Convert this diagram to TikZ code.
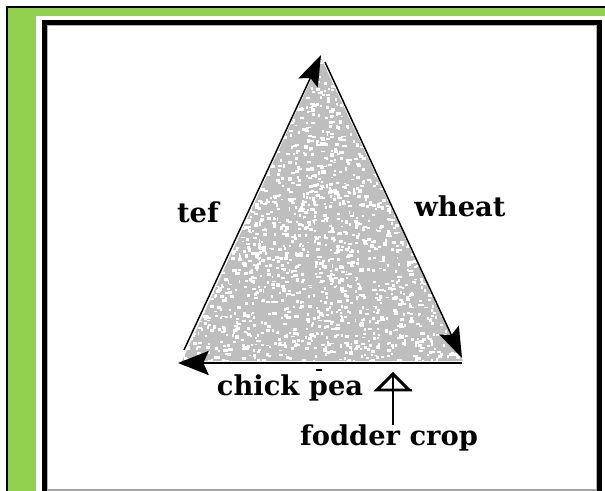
\documentclass[tikz,border=0pt]{standalone}
\usepackage{fontspec}
\setmainfont{DejaVu Serif}
\usetikzlibrary{arrows.meta}
\definecolor{framegreen}{RGB}{146,208,80}
\definecolor{speck}{RGB}{190,190,190}
\begin{document}
\begin{tikzpicture}[x=0.75pt,y=-0.75pt,
  lbl/.style={font=\bfseries\fontsize{20.5}{24}\selectfont, inner sep=0pt, anchor=base},
  sideline/.style={line width=1.1pt, -{Stealth[length=23pt,width=16pt,inset=4pt]}},
  baseline/.style={line width=2.2pt, -{Stealth[length=23pt,width=18pt,inset=4pt]}},
  frameline/.style={line width=3.5pt, black}]
\useasboundingbox (0,0) rectangle (605,491);
\fill[white] (0,0) rectangle (605,491);
% outer frame
\fill[framegreen] (7,7) rectangle (605,16);
\fill[framegreen] (7,7) rectangle (36,491);
\draw[line width=1.6pt] (7,491) -- (7,7) -- (605,7);
% inner box
\draw[gray!60, line width=0.8pt] (47.3,491) -- (47.3,25.3) -- (596.7,25.3) -- (596.7,491);
\draw[frameline] (44.5,491) -- (44.5,22.5) -- (599.5,22.5) -- (599.5,491);
\draw[gray!70, line width=0.8pt] (48,490) -- (596,490);
% triangle
\coordinate (apex) at (321,55);
\coordinate (bl) at (184,350);
\coordinate (rs) at (325,62);
\coordinate (br) at (462,358);
\coordinate (bs) at (462,363);
\coordinate (be) at (178,363);
\begin{scope}
  \clip (321,58) -- (463,361) -- (182,361) -- cycle;
  \fill[speck] (175,50) rectangle (470,365);
  \pgfmathsetseed{7}
  \foreach \i in {1,...,2600}{
    \pgfmathsetmacro{\px}{180+286*rnd}
    \pgfmathsetmacro{\py}{55+308*rnd}
    \pgfmathsetmacro{\pw}{1.5+3*rnd}
    \pgfmathsetmacro{\ph}{1.5+2*rnd}
    \fill[white] (\px,\py) rectangle ++(\pw,\ph);
  }
\end{scope}
\draw[sideline] (bl) -- (apex);
\draw[sideline] (rs) -- (br);
\draw[baseline] (bs) -- (be);
\draw[line width=1pt] (316,370) -- (322,370);
% labels
\node[lbl] (tef) at (198,223) {tef};
\node[lbl] (wheat) at (460,217) {wheat};
\node[lbl] (chick) at (290,395) {chick pea};
\node[lbl] (fodder) at (389,445) {fodder crop};
% fodder crop pointer
\coordinate (fs) at (393,425);
\coordinate (ft) at (393,374);
\draw[line width=1.2pt] (fs) -- (ft);
\draw[line width=2.2pt, line join=miter] (ft) -- ++(-16,16) -- ++(32,0) -- cycle;
\draw[line width=2.2pt] ([shift={(-18,16)}]ft) -- ([shift={(19,16)}]ft);
\end{tikzpicture}
\end{document}
